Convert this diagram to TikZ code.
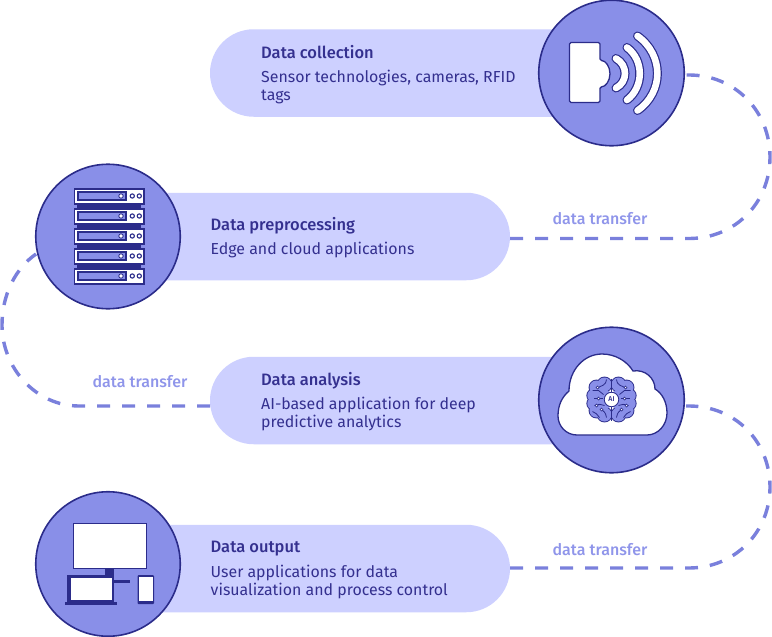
\documentclass[tikz,border=0pt]{standalone}
\usepackage{fontspec}
\setmainfont[BoldFont={Fira Sans Medium}]{Fira Sans}
\usetikzlibrary{shapes.misc}
\definecolor{pillc}{HTML}{CDD0FF}
\definecolor{discc}{HTML}{898FE8}
\definecolor{darkc}{HTML}{2B2C8A}
\definecolor{dashc}{HTML}{7A80DC}
\definecolor{labc}{HTML}{8F95EA}
\definecolor{textc}{HTML}{34308F}
\tikzset{
  pill/.style={rounded rectangle,fill=pillc,minimum height=87.5pt,inner sep=0pt,outer sep=0pt},
  disc/.style={circle,fill=discc,draw=darkc,line width=1.6pt,minimum size=145.5pt,inner sep=0pt,outer sep=0pt},
  ttl/.style={anchor=west,inner sep=0pt,text=textc,font=\fontsize{16.5}{18}\selectfont\bfseries},
  body/.style={anchor=north west,inner sep=0pt,align=left,text=textc,font=\fontsize{15.9}{17.6}\selectfont},
  lab/.style={inner sep=0pt,text=labc,font=\fontsize{16}{18}\selectfont\bfseries},
  conn/.style={draw=dashc,line width=3.4pt,dash pattern=on 13pt off 12pt},
  iconw/.style={fill=white,draw=darkc,line width=1.3pt},
  wave/.style={line cap=round,line width=9pt,draw=darkc},
  wavein/.style={line cap=round,line width=6.6pt,draw=white},
  brl/.style={draw=darkc,line width=.8pt},
}
\newcommand{\srv}[1]{%
  \begin{scope}[yshift=-#1pt]
    \fill[white,draw=darkc,line width=1.2pt] (74.5,0) rectangle (144,15);
    \fill[discc,draw=darkc,line width=1.5pt] (78,3.2) rectangle (126,11);
    \fill[white,draw=darkc,line width=.8pt] (121,7) circle (2.2pt);
    \fill[white,draw=darkc,line width=1.1pt] (132.3,7) circle (2.1pt);
    \fill[white,draw=darkc,line width=1.1pt] (139.3,7) circle (2.1pt);
  \end{scope}}
\begin{document}
\begin{tikzpicture}[x=1pt,y=-1pt]
\useasboundingbox (0,0) rectangle (772,637);
% pills
\node[pill,rounded rectangle east arc=none,minimum width=360pt] (p1) at (390,73) {};
\node[pill,rounded rectangle west arc=none,minimum width=360pt] (p2) at (330,236.5) {};
\node[pill,rounded rectangle east arc=none,minimum width=360pt] (p3) at (390,400.5) {};
\node[pill,rounded rectangle west arc=none,minimum width=360pt] (p4) at (330,568.5) {};
% connectors
\coordinate (e1) at (686,75);
\coordinate (e2) at (510,238.5);
\coordinate (e3) at (36,254);
\coordinate (e4) at (210,406);
\coordinate (e5) at (686,406);
\coordinate (e6) at (510,568);
\draw[conn] (e2) -- (689,238.5) .. controls (735,238.5) and (770,203) .. (770,157) .. controls (770,111) and (735,75) .. (689,75) -- (e1);
\draw[conn] (e4) -- (79,406) .. controls (36,406) and (2,368) .. (2,325) .. controls (2,294) and (16,268) .. (e3);
\draw[conn] (e6) -- (689,568) .. controls (735,568) and (770,532) .. (770,487) .. controls (770,441) and (735,406) .. (689,406) -- (e5);
% discs
\node[disc] (c1) at (611.5,73) {};
\node[disc,minimum size=144.5pt] (c2) at (108,236.5) {};
\node[disc] (c3) at (611.5,400) {};
\node[disc,minimum size=144.5pt] (c4) at (108,564) {};
% sensor icon
\draw[iconw,rounded corners=1.5pt] (600,60.5) arc[start angle=-90,end angle=90,x radius=10,y radius=13.2] -- (600,102.5) -- (569.5,102.5) -- (569.5,42.5) -- (600,42.5) -- cycle;
\foreach \st in {wave,wavein}{
  \draw[\st] (616,58.5) .. controls (628,65) and (628,82) .. (616,88);
  \draw[\st] (627,47.5) .. controls (644,60) and (644,87) .. (627,100);
  \draw[\st] (637.5,36) .. controls (664,55) and (664,92) .. (637.5,110.5);
}
% server icon
\fill[darkc] (77,200) rectangle (141,280);
\foreach \y in {189,209,229,249,269}{\srv{\y}}
% cloud icon
\draw[fill=white,draw=darkc,line width=1.3pt] (577,435) .. controls (566,435) and (558,426) .. (558,416) .. controls (558,405) and (562,397) .. (569,391) .. controls (569,370) and (584,354) .. (602,354) .. controls (615,354) and (627,361) .. (633,371) .. controls (645,369) and (655,378) .. (655,389) .. controls (662,393) and (667,402) .. (667,413) .. controls (667,425) and (658,435) .. (647,435) -- cycle;
% brain
\begin{scope}[shift={(611.5,399.5)}]
\foreach \s in {1,-1}{
  \foreach \a/\b/\r in {7/-15/7,15/-12/7,18/-4/6.2,18/4/6.2,15/11/7,7/15/7}{
    \draw[darkc,line width=1.8pt] (\s*\a,\b) circle (\r pt);}
}
\foreach \s in {1,-1}{
  \foreach \a/\b/\r in {7/-15/7,15/-12/7,18/-4/6.2,18/4/6.2,15/11/7,7/15/7,8/0/10}{
    \fill[discc] (\s*\a,\b) circle (\r pt);}
}
\draw[brl] (0,-21) -- (0,-7) (0,7) -- (0,21);
\foreach \s in {1,-1}{
\begin{scope}[xscale=\s]
  \draw[brl] (5,-20) .. controls (6,-13) and (11,-14) .. (13,-12);
  \draw[brl] (8,-5) -- (13,-9) -- (19,-9);
  \draw[brl] (9,-1) -- (18,-1);
  \draw[brl] (7,6) .. controls (10,4) and (13,5) .. (17,6);
  \draw[brl] (5,18) .. controls (6,12) and (8,12) .. (10,10);
  \draw[brl] (12,18) .. controls (14,15) and (16,13) .. (19,12);
  \fill[white,draw=darkc,line width=.7pt] (14,-12) circle (1.5pt);
  \fill[white,draw=darkc,line width=.7pt] (13,-1) circle (1.5pt);
  \fill[white,draw=darkc,line width=.7pt] (15,6) circle (1.5pt);
  \fill[white,draw=darkc,line width=.7pt] (10,10) circle (1.5pt);
\end{scope}}
\end{scope}
\node[circle,fill=white,draw=darkc,line width=.8pt,minimum size=14.5pt,inner sep=0pt,text=textc,font=\fontsize{7}{8}\selectfont\bfseries] (ai) at (611.5,399.5) {AI};
% devices icon
\fill[darkc] (105,568) rectangle (114,582);
\fill[darkc] (113,580.2) rectangle (130,582.8);
\draw[iconw] (73.5,523.5) rectangle (146.5,568.5);
\fill[darkc] (67,575) rectangle (114,603);
\fill[white] (70.5,577.5) rectangle (111.5,600);
\fill[darkc] (64.5,602) rectangle (116.5,604.5);
\fill[darkc,rounded corners=1pt] (137.5,575) rectangle (154,604);
\fill[white] (139,576.5) rectangle (152.5,600.5);
% text
\node[ttl] (t1) at (261,52.5) {Data collection};
\node[body] (b1) at (261,70.3) {Sensor technologies, cameras, RFID\\tags};
\node[ttl] (t2) at (210.5,225.5) {Data preprocessing};
\node[body] (b2) at (210.5,242) {Edge and cloud applications};
\node[ttl] (t3) at (261,380.5) {Data analysis};
\node[body] (b3) at (261,397) {AI-based application for deep\\predictive analytics};
\node[ttl] (t4) at (210.5,549) {Data output};
\node[body] (b4) at (210.5,565) {User applications for data\\visualization and process control};
\node[lab] (l1) at (600,219) {data transfer};
\node[lab] (l2) at (140,382) {data transfer};
\node[lab] (l3) at (600,550) {data transfer};
\end{tikzpicture}
\end{document}
